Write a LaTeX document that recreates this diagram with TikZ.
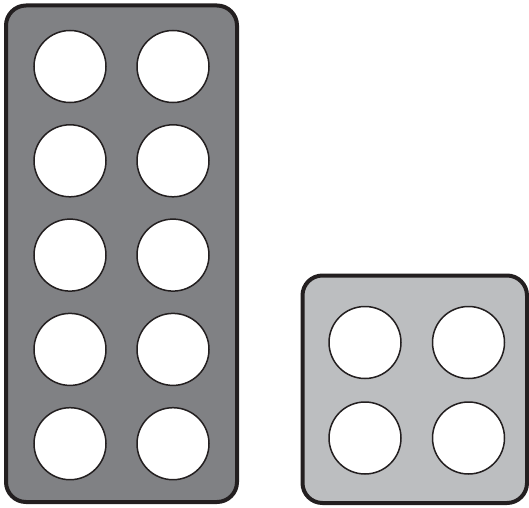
\documentclass[tikz,border=0pt]{standalone}
\definecolor{edge}{HTML}{231F20}
\definecolor{darkpanel}{HTML}{808184}
\definecolor{lightpanel}{HTML}{BCBEC0}
\begin{document}
\begin{tikzpicture}[x=1pt,y=1pt,
  panel/.style={draw=edge,line width=4pt,rounded corners=20pt},
  hole/.style={circle,draw=edge,fill=white,line width=1.5pt,minimum size=72pt,inner sep=0pt}]
\useasboundingbox (0,0) rectangle (529,507);
\path[panel,fill=darkpanel] (6,5) rectangle (237,501.5);
\path[panel,fill=lightpanel] (302.5,4) rectangle (527,231.5);
\foreach \r/\y in {1/440.5,2/346.2,3/251.9,4/157.6,5/63.3}{
  \node[hole] (L\r a) at (70,\y) {};
  \node[hole] (L\r b) at (173,\y) {};
}
\node[hole] (R1a) at (365,164.5) {};
\node[hole] (R1b) at (468.5,164.5) {};
\node[hole] (R2a) at (365,69) {};
\node[hole] (R2b) at (468.5,69) {};
\end{tikzpicture}
\end{document}
